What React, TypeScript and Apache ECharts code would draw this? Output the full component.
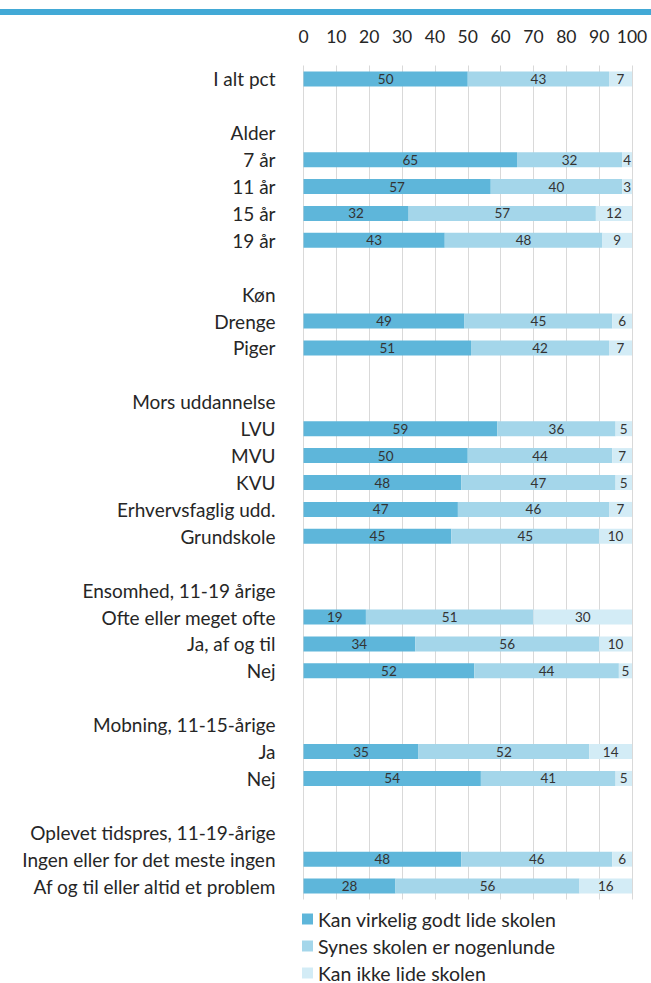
import React, { useEffect, useRef } from "react";
import * as echarts from "echarts";

const categories = [
  "I alt pct", "", "Alder", "7 år", "11 år", "15 år", "19 år", "",
  "Køn", "Drenge", "Piger", "",
  "Mors uddannelse", "LVU", "MVU", "KVU", "Erhvervsfaglig udd.", "Grundskole", "",
  "Ensomhed, 11-19 årige", "Ofte eller meget ofte", "Ja, af og til", "Nej", "",
  "Mobning, 11-15-årige", "Ja", "Nej", "",
  "Oplevet tidspres, 11-19-årige", "Ingen eller for det meste ingen", "Af og til eller altid et problem",
];

const N = null;
const godt = [50, N, N, 65, 57, 32, 43, N, N, 49, 51, N, N, 59, 50, 48, 47, 45, N, N, 19, 34, 52, N, N, 35, 54, N, N, 48, 28];
const nogenlunde = [43, N, N, 32, 40, 57, 48, N, N, 45, 42, N, N, 36, 44, 47, 46, 45, N, N, 51, 56, 44, N, N, 52, 41, N, N, 46, 56];
const ikke = [7, N, N, 4, 3, 12, 9, N, N, 6, 7, N, N, 5, 7, 5, 7, 10, N, N, 30, 10, 5, N, N, 14, 5, N, N, 6, 16];

const seriesNames = ["Kan virkelig godt lide skolen", "Synes skolen er nogenlunde", "Kan ikke lide skolen"];
const colors = ["#5EB6DA", "#A4D6EA", "#D3ECF6"];
const xTicks = [0, 10, 20, 30, 40, 50, 60, 70, 80, 90, 100];

const FONT = "Lato";

export default function App() {
  const ref = useRef<HTMLDivElement>(null);
  useEffect(() => {
    document.body.style.margin = "0";
    const chart = echarts.init(ref.current!, null, { renderer: "svg" });
    const mk = (name: string, data: (number | null)[], color: string) => ({
      name,
      type: "bar",
      stack: "total",
      data: data.map((v) => (v === null ? "-" : v)),
      barWidth: 15,
      itemStyle: { color },
      label: {
        show: true,
        position: "inside",
        color: "#333333",
        fontSize: 13.5,
        fontFamily: FONT,
      },
    });
    chart.setOption({
      animation: false,
      backgroundColor: "#ffffff",
      graphic: [
        { type: "rect", shape: { x: 0, y: 9, width: 651, height: 6 }, style: { fill: "#42A9D6" } },
      ],
      grid: { left: 303.5, right: 19, top: 65.5, bottom: 83.5 },
      xAxis: {
        type: "value",
        position: "top",
        min: 0,
        max: 100,
        interval: 10,
        axisLine: { show: false },
        axisTick: { show: false },
        splitLine: { show: true, lineStyle: { color: "#D9D9D9", width: 1 } },
        axisLabel: {
          fontSize: 17.5,
          fontFamily: FONT,
          color: "#262626",
          margin: 20,
          formatter: (v: number) => (xTicks.includes(v) ? String(v) : ""),
        },
      },
      yAxis: {
        type: "category",
        inverse: true,
        data: categories.map((c, i) => ({ value: c === "" ? " ".repeat(i + 1) : c })),
        axisLine: { show: false },
        axisTick: { show: false },
        axisLabel: {
          fontSize: 19,
          fontFamily: FONT,
          color: "#262626",
          margin: 28,
          formatter: (v: string) => v.trim(),
        },
      },
      legend: {
        orient: "vertical",
        left: 302,
        top: 909,
        padding: 0,
        itemWidth: 11,
        itemHeight: 11,
        itemGap: 7,
        icon: "rect",
        textStyle: { fontSize: 19.5, fontFamily: FONT, color: "#262626", lineHeight: 20 },
        data: seriesNames,
      },
      series: [
        mk(seriesNames[0], godt, colors[0]),
        mk(seriesNames[1], nogenlunde, colors[1]),
        mk(seriesNames[2], ikke, colors[2]),
      ],
    });
    return () => chart.dispose();
  }, []);
  return <div ref={ref} style={{ width: 651, height: 983 }} />;
}
